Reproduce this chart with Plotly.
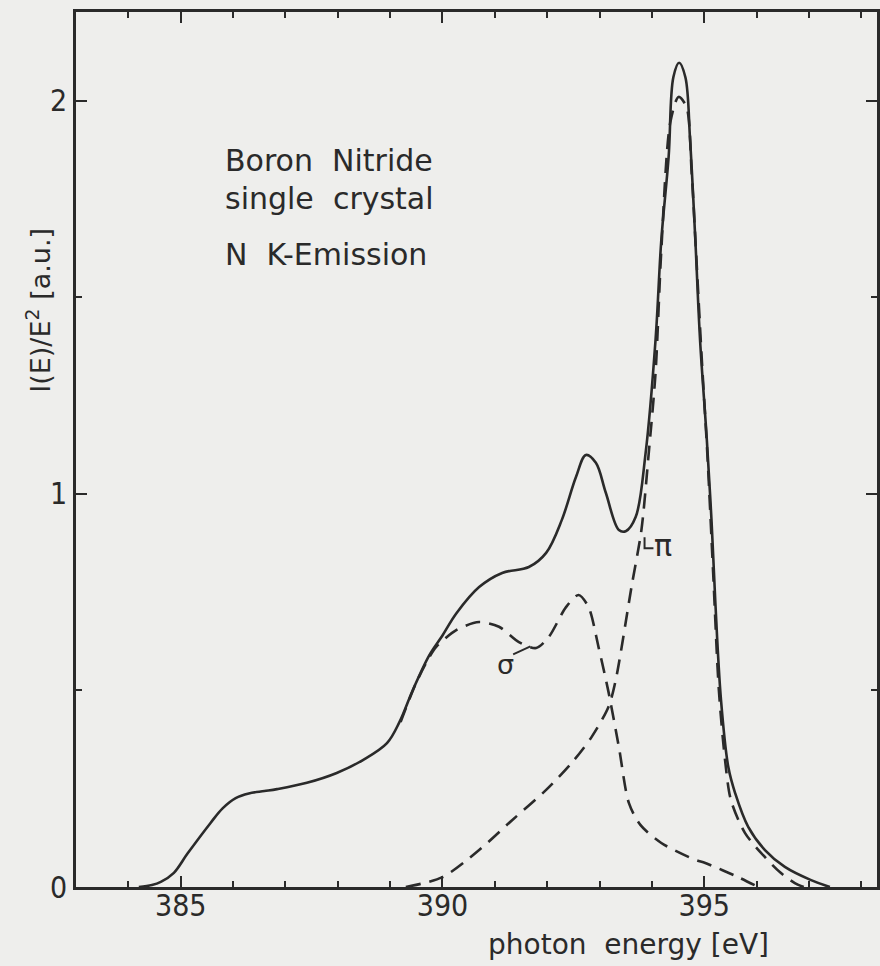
import plotly.graph_objects as go

# Total N K-emission spectrum (solid)
total_E = [384.2, 384.45, 384.62, 384.87, 385.13, 385.57, 385.80, 386.05, 386.30, 386.60,
           386.84, 387.41, 387.98, 388.48, 388.94, 389.18, 389.43, 389.75, 390.0,
           390.27, 390.70, 391.14, 391.65, 391.98, 392.28, 392.55, 392.74, 392.93, 393.12,
           393.37, 393.50, 393.69, 393.88, 394.07, 394.18, 394.32, 394.41, 394.52, 394.64,
           394.73, 394.83, 394.92, 395.05, 395.14, 395.21, 395.32, 395.46, 395.59, 395.84,
           396.16, 396.54, 397.03, 397.4]
total_I = [0.0, 0.005, 0.013, 0.036, 0.085, 0.163, 0.200, 0.226, 0.238, 0.244,
           0.249, 0.265, 0.290, 0.323, 0.366, 0.420, 0.500, 0.590, 0.640,
           0.697, 0.763, 0.799, 0.814, 0.850, 0.934, 1.043, 1.099, 1.079, 1.003,
           0.908, 0.905, 0.941, 1.104, 1.392, 1.646, 1.858, 2.060, 2.097, 2.060,
           1.900, 1.646, 1.392, 1.137, 0.930, 0.730, 0.476, 0.305, 0.239, 0.153,
           0.094, 0.051, 0.018, 0.0]

# pi component (dashed)
pi_E = [389.3, 390.0, 390.70, 391.33, 391.98, 392.47, 392.85, 393.17, 393.31, 393.61,
        393.80, 393.94, 394.07, 394.18, 394.35, 394.51, 394.66, 394.76, 394.85, 394.95,
        395.06, 395.17, 395.28, 395.40, 395.51, 395.78, 396.16, 396.46, 396.73, 396.9]
pi_I = [0.0, 0.025, 0.094, 0.170, 0.247, 0.316, 0.382, 0.458, 0.527, 0.763,
        0.908, 1.104, 1.308, 1.620, 1.944, 2.010, 1.985, 1.817, 1.600, 1.350,
        1.100, 0.800, 0.500, 0.320, 0.221, 0.137, 0.076, 0.036, 0.010, 0.0]

# sigma component (dashed)
sigma_E = [389.2, 389.5, 389.75, 389.88, 390.27, 390.70, 391.08, 391.46, 391.79, 392.03,
           392.36, 392.60, 392.79, 392.98, 393.17, 393.37, 393.56, 393.78, 394.18, 394.83,
           395.02, 395.65, 396.03]
sigma_I = [0.420, 0.520, 0.585, 0.611, 0.654, 0.674, 0.662, 0.623, 0.608, 0.636,
           0.712, 0.743, 0.712, 0.611, 0.497, 0.356, 0.214, 0.158, 0.112, 0.069,
           0.061, 0.025, 0.0]

x_ticks = [385, 390, 395]
y_ticks = [0, 1, 2]

ink = "#2a2a2a"
paper = "#eeeeec"
font_main = "DejaVu Sans, Liberation Sans, sans-serif"
font_ticks = "DejaVu Sans Condensed, Liberation Sans Narrow, DejaVu Sans, sans-serif"

fig = go.Figure()
fig.add_trace(go.Scatter(x=total_E, y=total_I, mode="lines",
                         line=dict(color=ink, width=2.6, shape="spline", smoothing=1.0),
                         showlegend=False, hoverinfo="skip"))
fig.add_trace(go.Scatter(x=pi_E, y=pi_I, mode="lines",
                         line=dict(color=ink, width=2.6, shape="spline", smoothing=0.8,
                                   dash="15px,9px"),
                         showlegend=False, hoverinfo="skip"))
fig.add_trace(go.Scatter(x=sigma_E, y=sigma_I, mode="lines",
                         line=dict(color=ink, width=2.6, shape="spline", smoothing=0.8,
                                   dash="15px,9px"),
                         showlegend=False, hoverinfo="skip"))

# leader lines for labels
fig.add_trace(go.Scatter(x=[391.35, 391.68], y=[0.592, 0.612], mode="lines",
                         line=dict(color=ink, width=2), showlegend=False, hoverinfo="skip"))
fig.add_trace(go.Scatter(x=[393.86, 393.86, 394.03], y=[0.890, 0.862, 0.862], mode="lines",
                         line=dict(color=ink, width=2), showlegend=False, hoverinfo="skip"))

annots = [
    dict(text="Boron  Nitride", x=385.8, y=1.847),
    dict(text="single  crystal", x=385.8, y=1.751),
    dict(text="N  K-Emission", x=385.8, y=1.610),
]
for a in annots:
    fig.add_annotation(x=a["x"], y=a["y"], text=a["text"], showarrow=False,
                       xref="x", yref="y", xanchor="left", yanchor="middle",
                       font=dict(family=font_main, size=30, color=ink))

fig.add_annotation(x=391.2, y=0.565, text="σ", showarrow=False, xref="x", yref="y",
                   font=dict(family=font_main, size=27, color=ink))
fig.add_annotation(x=394.22, y=0.868, text="π", showarrow=False, xref="x", yref="y",
                   font=dict(family=font_main, size=30, color=ink))

fig.add_annotation(x=-0.047, y=0.659, xref="paper", yref="paper",
                   xanchor="center", yanchor="middle",
                   text="I(E)/E<sup>2</sup> [a.u.]", textangle=-90, showarrow=False,
                   font=dict(family=font_main, size=27, color=ink))
fig.add_annotation(x=0.69, y=-0.066, xref="paper", yref="paper",
                   xanchor="center", yanchor="middle",
                   text="photon  energy [eV]", showarrow=False,
                   font=dict(family=font_main, size=28, color=ink))

fig.update_xaxes(range=[383.0, 398.3], tickvals=x_ticks, ticktext=[str(v) for v in x_ticks],
                 ticks="inside", ticklen=11, tickwidth=2, tickcolor=ink,
                 minor=dict(dtick=1, tick0=383, ticks="inside", ticklen=6, tickwidth=2, tickcolor=ink),
                 showline=True, linecolor=ink, linewidth=2.5, mirror="allticks",
                 showgrid=False, zeroline=False, ticklabelstandoff=-10,
                 tickfont=dict(family=font_ticks, size=30, color=ink))
fig.update_yaxes(range=[0, 2.226], tickvals=y_ticks, ticktext=[str(v) for v in y_ticks],
                 ticks="inside", ticklen=11, tickwidth=2, tickcolor=ink,
                 minor=dict(dtick=0.5, tick0=0, ticks="inside", ticklen=6, tickwidth=2, tickcolor=ink),
                 showline=True, linecolor=ink, linewidth=2.5, mirror="allticks",
                 showgrid=False, zeroline=False,
                 tickfont=dict(family=font_ticks, size=30, color=ink))

fig.update_layout(width=880, height=966,
                  margin=dict(l=76, r=0, t=12, b=79),
                  paper_bgcolor=paper, plot_bgcolor=paper)

fig.write_html("out.html")
